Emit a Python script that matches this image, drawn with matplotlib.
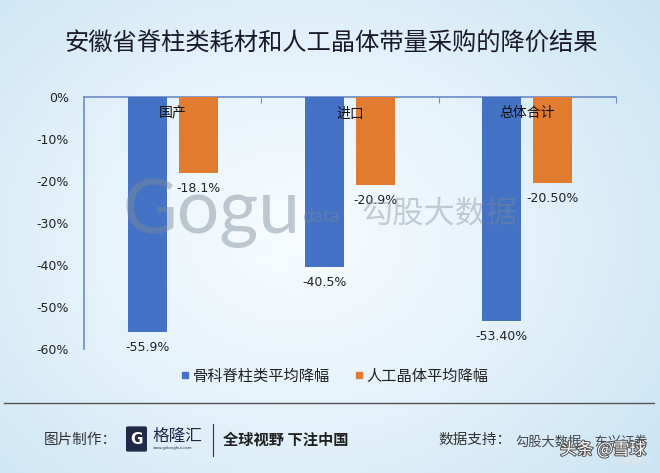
import matplotlib
matplotlib.use("Agg")
import matplotlib.pyplot as plt
import matplotlib.patheffects as pe
import numpy as np
from matplotlib.patches import FancyBboxPatch
from matplotlib.lines import Line2D

plt.rcParams['font.family'] = ['Noto Sans CJK SC', 'DejaVu Sans']

categories = ["国产", "进口", "总体合计"]
series_names = ["骨科脊柱类平均降幅", "人工晶体平均降幅"]
spine_vals = [-55.9, -40.5, -53.4]
lens_vals = [-18.1, -20.9, -20.5]
spine_labels = ["-55.9%", "-40.5%", "-53.40%"]
lens_labels = ["-18.1%", "-20.9%", "-20.50%"]
yticks = [0, -10, -20, -30, -40, -50, -60]
ytick_labels = ["0%", "-10%", "-20%", "-30%", "-40%", "-50%", "-60%"]

BLUE = "#4472C4"
ORANGE = "#E07B30"

W, H = 660, 473
fig = plt.figure(figsize=(W / 100, H / 100), dpi=100)

# background gradient
bg = fig.add_axes([0, 0, 1, 1], zorder=-10)
yy, xx = np.mgrid[0:1:200j, 0:1:300j]
r = np.sqrt(((xx - 0.45) / 0.7) ** 2 + ((yy - 0.5) / 0.8) ** 2)
r = np.clip(r, 0, 1) ** 1.2
c_in = np.array([0.97, 0.988, 0.998])
c_out = np.array([0.79, 0.895, 0.96])
img = c_in[None, None, :] * (1 - r[..., None]) + c_out[None, None, :] * r[..., None]
bg.imshow(img, extent=[0, 1, 0, 1], aspect="auto", origin="lower")
bg.set_xlim(0, 1); bg.set_ylim(0, 1)
bg.axis("off")

def fx(px):
    return px / W

def fy(py):
    return 1 - py / H

# main axes
ax = fig.add_axes([fx(84), fy(349), fx(616) - fx(84), fy(97) - fy(349)])
ax.patch.set_alpha(0)
x = np.arange(len(categories))
bw = 0.22
off = 0.144
ax.bar(x - off, spine_vals, bw, color=BLUE, label=series_names[0], zorder=3)
ax.bar(x + off, lens_vals, bw, color=ORANGE, label=series_names[1], zorder=3)
ax.set_xlim(-0.5, 2.5)
ax.set_ylim(-60, 0)
ax.set_yticks(yticks)
ax.set_yticklabels(ytick_labels, fontsize=9, color="#222222", family=["DejaVu Sans"])
ax.tick_params(axis="y", length=0, pad=11)
ax.set_xticks([0.5, 1.5, 2.5])
ax.set_xticklabels([])
ax.xaxis.tick_top()
ax.tick_params(axis="x", direction="in", length=4, color="#6d8cc8")
for s in ["right", "bottom"]:
    ax.spines[s].set_visible(False)
for s in ["left", "top"]:
    ax.spines[s].set_color("#6d8cc8")
    ax.spines[s].set_linewidth(1.2)

for i, c in enumerate(categories):
    ax.text(x[i], -3.9, c, ha="center", va="center", fontsize=10, color="#111111", zorder=5)

for i in range(len(categories)):
    ax.annotate(spine_labels[i], (x[i] - off, spine_vals[i]), xytext=(0, -11),
                textcoords="offset points", ha="center", va="center",
                fontsize=9, color="#222222", family=["DejaVu Sans"])
    ax.annotate(lens_labels[i], (x[i] + off, lens_vals[i]), xytext=(0, -11),
                textcoords="offset points", ha="center", va="center",
                fontsize=9, color="#222222", family=["DejaVu Sans"])

# watermark
fig.text(fx(122), fy(213), "Gogu", fontsize=54, color="#7d8b99", alpha=0.45,
         ha="left", va="center", family=["Lato", "DejaVu Sans"], zorder=6)
fig.text(fx(302), fy(216), "data", fontsize=14, color="#7d8b99", alpha=0.45,
         ha="left", va="center", family=["Lato", "DejaVu Sans"], zorder=6)
fig.text(fx(440), fy(214), "勾股大数据", fontsize=22.5, color="#7d8b99", alpha=0.4,
         ha="center", va="center", zorder=6)

# title
fig.text(fx(331), fy(43), "安徽省脊柱类耗材和人工晶体带量采购的降价结果", fontsize=17.5,
         ha="center", va="center", color="#1a1a2a")

# legend
handles = [Line2D([], [], marker="s", linestyle="none", color=BLUE, markersize=5),
           Line2D([], [], marker="s", linestyle="none", color=ORANGE, markersize=5)]
fig.legend(handles, series_names, loc="center", bbox_to_anchor=(fx(334), fy(376)),
           ncol=2, frameon=False, fontsize=11, handletextpad=0.1, columnspacing=1.5,
           handlelength=0.8, labelcolor="#222222")

# separator line
fig.add_artist(Line2D([fx(4), fx(654)], [fy(403), fy(403)], color="#555555", lw=1.0))

# footer
fig.text(fx(44), fy(440), "图片制作：", fontsize=10.5, ha="left", va="center", color="#333333")
fig.add_artist(FancyBboxPatch((fx(128), fy(450)), fx(17), fy(428) - fy(450),
                              boxstyle="round,pad=0.002", color="#1f2a48"))
fig.text(fx(136.5), fy(439), "G", fontsize=11, ha="center", va="center", color="white",
         weight="bold", family=["DejaVu Sans"])
fig.text(fx(153), fy(436), "格隆汇", fontsize=12, ha="left", va="center", color="#1f2a48")
fig.text(fx(153), fy(448), "www.gelonghui.com", fontsize=2.8, ha="left", va="center",
         color="#1f2a48", family=["DejaVu Sans"])
fig.add_artist(Line2D([fx(213), fx(213)], [fy(424), fy(456)], color="#333333", lw=0.8))
fig.text(fx(223), fy(440), "全球视野 下注中国", fontsize=11, ha="left", va="center",
         color="#222222", weight="bold")
fig.text(fx(438), fy(440), "数据支持：", fontsize=10.5, ha="left", va="center", color="#333333")
fig.text(fx(515), fy(442), "勾股大数据、东兴证券", fontsize=9.5, ha="left", va="center",
         color="#444444")
fig.text(fx(560), fy(450), "头条 @雪球", fontsize=12, ha="left", va="center", color="white",
         path_effects=[pe.withStroke(linewidth=1.5, foreground="#555555")])
fig.text(fx(652), fy(461), "@格隆汇", fontsize=6.5, ha="right", va="center", color="#e4e4e4")

fig.savefig("out.png", dpi=100)
